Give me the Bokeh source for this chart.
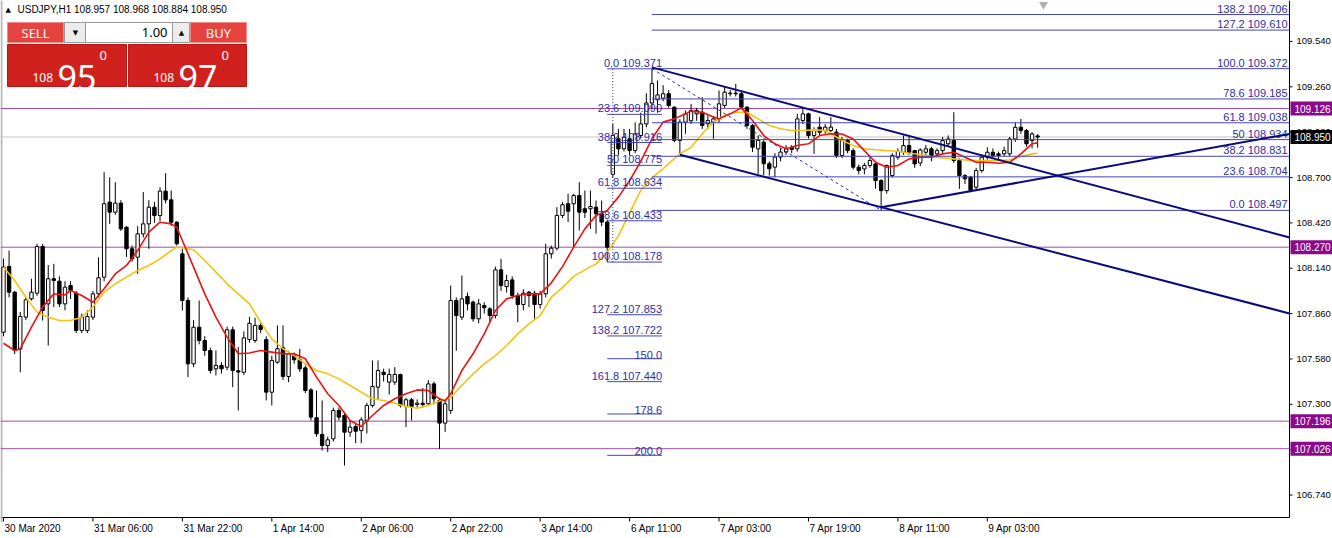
from bokeh.plotting import figure
from bokeh.models import ColumnDataSource, FixedTicker
from bokeh.core.properties import value
from bokeh.embed import file_html
from bokeh.resources import INLINE

# ---------------- data (USDJPY H1) ----------------
opens = [
    107.745, 108.151, 107.992, 107.642, 107.838, 107.951, 107.986, 108.274, 107.920, 108.075,
    108.060, 107.920, 108.033, 107.986, 107.756, 107.756, 107.838, 107.982, 108.085, 108.548,
    108.486, 108.542, 108.393, 108.260, 108.208, 108.352, 108.414, 108.517, 108.465, 108.616,
    108.562, 108.424, 108.229, 107.941, 107.550, 107.776, 107.694, 107.632, 107.519, 107.540,
    107.529, 107.760, 107.507, 107.498, 107.700, 107.694, 107.787, 107.700, 107.375, 107.560,
    107.649, 107.472, 107.601, 107.575, 107.525, 107.389, 107.217, 107.114, 107.046, 107.087,
    107.262, 107.231, 107.128, 107.163, 107.138, 107.200, 107.293, 107.406, 107.498, 107.437,
    107.437, 107.484, 107.287, 107.328, 107.299, 107.307, 107.303, 107.426, 107.324, 107.184,
    107.262, 107.941, 107.838, 107.966, 107.931, 107.828, 107.910, 107.889, 107.848, 108.130,
    108.027, 108.068, 107.972, 107.916, 107.992, 107.986, 107.916, 107.982, 108.229, 108.264,
    108.466, 108.538, 108.538, 108.589, 108.507, 108.507, 108.517, 108.476, 108.425, 108.720,
    108.939, 108.877, 108.939, 108.867, 108.959, 109.031, 109.160, 109.180, 109.190, 109.217,
    109.134, 108.929, 109.042, 109.050, 109.093, 109.103, 109.032, 109.042, 109.062, 109.145,
    109.217, 109.217, 109.217, 109.134, 109.021, 108.877, 108.918, 108.785, 108.764, 108.826,
    108.857, 108.887, 108.877, 109.052, 109.093, 108.959, 109.011, 108.990, 108.990, 108.980,
    108.836, 108.928, 108.866, 108.764, 108.753, 108.774, 108.784, 108.681, 108.619, 108.712,
    108.825, 108.856, 108.897, 108.866, 108.790, 108.856, 108.877, 108.846, 108.866, 108.908,
    108.928, 108.805, 108.712, 108.702, 108.640, 108.743, 108.825, 108.856, 108.846, 108.846,
    108.846, 108.938, 109.010, 108.990, 108.928, 108.957,
]
highs = [
    108.200, 108.249, 108.000, 107.870, 107.960, 108.075, 108.290, 108.290, 108.160, 108.167,
    108.090, 108.060, 108.060, 108.000, 107.860, 107.880, 108.000, 108.208, 108.733, 108.702,
    108.671, 108.560, 108.400, 108.280, 108.400, 108.610, 108.560, 108.550, 108.640, 108.727,
    108.620, 108.430, 108.260, 107.960, 107.820, 107.941, 107.720, 107.650, 107.632, 107.560,
    107.780, 107.780, 107.653, 107.750, 107.840, 107.834, 107.800, 107.720, 107.600, 107.787,
    107.787, 107.630, 107.620, 107.643, 107.540, 107.400, 107.385, 107.324, 107.100, 107.280,
    107.280, 107.250, 107.200, 107.180, 107.220, 107.310, 107.571, 107.571, 107.520, 107.520,
    107.530, 107.490, 107.340, 107.340, 107.330, 107.400, 107.450, 107.440, 107.340, 107.320,
    108.033, 107.960, 108.095, 107.990, 107.940, 107.950, 107.930, 107.900, 108.150, 108.198,
    108.100, 108.090, 107.990, 108.010, 108.000, 108.000, 108.000, 108.291, 108.280, 108.517,
    108.548, 108.600, 108.600, 108.671, 108.620, 108.620, 108.558, 108.558, 108.440, 109.030,
    109.000, 109.000, 109.000, 109.041, 109.100, 109.220, 109.371, 109.299, 109.270, 109.240,
    109.140, 109.060, 109.114, 109.155, 109.130, 109.196, 109.083, 109.080, 109.237, 109.258,
    109.240, 109.278, 109.230, 109.140, 109.030, 108.960, 108.940, 108.800, 108.850, 108.880,
    108.900, 108.900, 109.093, 109.134, 109.100, 109.010, 109.073, 109.030, 109.073, 109.000,
    108.950, 108.940, 108.880, 108.780, 108.790, 108.830, 108.800, 108.690, 108.780, 108.850,
    108.880, 108.959, 108.959, 108.870, 108.880, 108.900, 108.890, 108.880, 108.950, 108.960,
    109.103, 108.820, 108.720, 108.710, 108.760, 108.840, 108.887, 108.880, 108.860, 108.890,
    108.950, 109.041, 109.062, 109.000, 108.980, 108.968,
]
lows = [
    107.720, 107.960, 107.610, 107.498, 107.820, 107.940, 107.970, 107.817, 107.663, 107.900,
    107.900, 107.880, 107.950, 107.740, 107.740, 107.740, 107.820, 107.960, 108.060, 108.414,
    108.470, 108.370, 108.210, 108.180, 108.105, 108.330, 108.260, 108.420, 108.430, 108.540,
    108.400, 108.280, 107.879, 107.468, 107.530, 107.670, 107.600, 107.490, 107.478, 107.490,
    107.510, 107.406, 107.262, 107.480, 107.680, 107.680, 107.740, 107.324, 107.293, 107.550,
    107.450, 107.437, 107.550, 107.500, 107.370, 107.200, 107.100, 107.015, 107.005, 107.070,
    107.200, 106.922, 107.100, 107.060, 107.060, 107.120, 107.280, 107.330, 107.440, 107.360,
    107.420, 107.280, 107.160, 107.200, 107.280, 107.280, 107.290, 107.300, 107.025, 107.130,
    107.240, 107.630, 107.820, 107.880, 107.810, 107.800, 107.860, 107.810, 107.830, 108.000,
    107.990, 107.950, 107.807, 107.880, 107.900, 107.828, 107.890, 107.960, 108.200, 108.250,
    108.450, 108.425, 108.270, 108.373, 108.450, 108.383, 108.353, 108.400, 108.178, 108.700,
    108.836, 108.860, 108.836, 108.850, 108.940, 109.010, 109.120, 109.100, 109.170, 109.130,
    108.918, 108.846, 108.970, 109.030, 109.050, 109.000, 109.000, 108.939, 109.040, 109.130,
    109.200, 109.200, 109.120, 109.000, 108.857, 108.723, 108.713, 108.712, 108.702, 108.800,
    108.840, 108.850, 108.860, 109.030, 108.940, 108.846, 108.960, 108.970, 108.980, 108.820,
    108.820, 108.850, 108.750, 108.720, 108.720, 108.760, 108.630, 108.497, 108.600, 108.700,
    108.810, 108.840, 108.840, 108.760, 108.770, 108.840, 108.800, 108.820, 108.850, 108.890,
    108.790, 108.630, 108.660, 108.609, 108.620, 108.730, 108.810, 108.820, 108.810, 108.830,
    108.830, 108.920, 108.970, 108.890, 108.880, 108.884,
]
closes = [
    108.147, 107.992, 107.632, 107.842, 107.945, 107.992, 108.274, 107.879, 108.075, 108.064,
    107.920, 108.023, 108.003, 107.756, 107.838, 107.842, 107.982, 108.081, 108.538, 108.486,
    108.542, 108.383, 108.260, 108.198, 108.352, 108.414, 108.517, 108.465, 108.616, 108.562,
    108.424, 108.291, 107.941, 107.550, 107.776, 107.694, 107.632, 107.509, 107.540, 107.519,
    107.760, 107.509, 107.499, 107.710, 107.800, 107.787, 107.762, 107.375, 107.571, 107.643,
    107.472, 107.612, 107.575, 107.519, 107.385, 107.221, 107.118, 107.046, 107.081, 107.262,
    107.221, 107.128, 107.159, 107.134, 107.204, 107.293, 107.410, 107.509, 107.484, 107.484,
    107.484, 107.293, 107.328, 107.287, 107.307, 107.299, 107.426, 107.334, 107.184, 107.303,
    107.941, 107.848, 107.951, 107.920, 107.828, 107.920, 107.896, 107.848, 108.130, 108.033,
    108.064, 107.972, 107.916, 107.986, 107.972, 107.916, 107.982, 108.229, 108.264, 108.466,
    108.532, 108.492, 108.589, 108.486, 108.486, 108.521, 108.476, 108.425, 108.270, 108.960,
    108.877, 108.949, 108.867, 108.969, 109.031, 109.160, 109.280, 109.210, 109.217, 109.145,
    108.929, 109.042, 109.093, 109.114, 109.114, 109.021, 109.052, 109.062, 109.155, 109.227,
    109.221, 109.221, 109.134, 109.021, 108.887, 108.929, 108.785, 108.754, 108.826, 108.857,
    108.877, 108.873, 109.062, 109.093, 108.959, 108.990, 108.980, 109.011, 109.011, 108.836,
    108.928, 108.866, 108.764, 108.743, 108.774, 108.805, 108.681, 108.619, 108.774, 108.836,
    108.862, 108.897, 108.856, 108.784, 108.870, 108.877, 108.836, 108.866, 108.928, 108.938,
    108.805, 108.712, 108.692, 108.619, 108.743, 108.825, 108.856, 108.836, 108.836, 108.866,
    108.938, 109.010, 108.990, 108.908, 108.969, 108.950,
]
assert len(opens) == len(highs) == len(lows) == len(closes) == 186

# moving averages
fast_ma_x = [0, 2, 3, 5, 7, 9, 11, 12, 14, 16, 18, 20, 22, 24, 26, 28, 30, 31, 32, 34,
             36, 38, 40, 42, 44, 46, 48, 50, 52, 54, 56, 58, 60, 62, 64, 66, 68, 70, 72, 74,
             76, 78, 79, 80, 82, 84, 86, 88, 90, 92, 94, 96, 98, 100, 102, 104, 106, 108, 110, 112,
             114, 116, 118, 120, 122, 123, 125, 127, 128, 130, 132, 134, 136, 138, 140, 142, 144, 146, 148, 150,
             152, 154, 156, 158, 160, 162, 164, 166, 168, 170, 172, 174, 176, 178, 180, 182, 184, 185]
fast_ma_y = [107.677, 107.632, 107.642, 107.776, 107.900, 107.982, 107.975, 108.003, 107.972, 107.930,
             108.013, 108.105, 108.157, 108.249, 108.363, 108.424, 108.414, 108.393, 108.311, 108.147,
             107.982, 107.838, 107.715, 107.612, 107.617, 107.632, 107.622, 107.612, 107.612, 107.581,
             107.468, 107.365, 107.293, 107.200, 107.163, 107.231, 107.293, 107.334, 107.365, 107.389,
             107.385, 107.334, 107.320, 107.365, 107.509, 107.612, 107.735, 107.879, 107.951, 107.972,
             107.982, 107.982, 108.050, 108.150, 108.270, 108.383, 108.466, 108.497, 108.579, 108.680,
             108.800, 108.939, 109.042, 109.062, 109.093, 109.110, 109.103, 109.073, 109.062, 109.093,
             109.130, 109.052, 108.959, 108.908, 108.877, 108.898, 108.908, 108.959, 108.970, 108.969,
             108.938, 108.866, 108.794, 108.763, 108.774, 108.815, 108.825, 108.825, 108.846, 108.856,
             108.825, 108.794, 108.794, 108.788, 108.794, 108.846, 108.908, 108.914]
slow_ma_x = [0, 2, 4, 6, 8, 10, 12, 14, 16, 18, 20, 22, 24, 26, 28, 30, 31, 32,
             34, 36, 38, 40, 42, 44, 46, 48, 50, 52, 54, 56, 58, 60, 62, 64, 66, 68, 70, 72, 74, 76,
             78, 80, 82, 84, 86, 88, 90, 92, 94, 96, 98, 100, 102, 104, 106, 108, 110, 112, 114, 116,
             118, 120, 121, 123, 125, 127, 129, 131, 133, 135, 137, 139, 141, 143, 145, 147, 149, 150,
             152, 154, 156, 158, 160, 162, 164, 166, 168, 170, 172, 174, 176, 178, 180, 182, 184, 185]
slow_ma_y = [108.147, 108.064, 107.961, 107.869, 107.838, 107.817, 107.817, 107.838, 107.900, 107.992,
             108.044, 108.085, 108.126, 108.157, 108.198, 108.249, 108.270, 108.266,
             108.254, 108.188, 108.116, 108.044, 107.982, 107.920, 107.807, 107.704, 107.643, 107.601,
             107.550, 107.509, 107.488, 107.457, 107.416, 107.375, 107.334, 107.324, 107.307, 107.287,
             107.276, 107.293, 107.320, 107.344, 107.416, 107.488, 107.550, 107.601, 107.663, 107.735,
             107.797, 107.848, 107.961, 108.020, 108.090, 108.130, 108.167, 108.240, 108.340, 108.480,
             108.620, 108.700, 108.754, 108.816, 108.846, 108.887, 108.970, 109.042, 109.083, 109.103,
             109.103, 109.062, 109.021, 109.001, 108.990, 108.990, 108.994, 108.990, 108.950, 108.930,
             108.897, 108.877, 108.871, 108.866, 108.862, 108.850, 108.842, 108.829, 108.821, 108.815,
             108.809, 108.805, 108.805, 108.805, 108.809, 108.829, 108.846, 108.850]

# axis ticks
x_tick_bars = [0, 16, 32, 48, 64, 80, 96, 112, 128, 144, 160, 176]
x_tick_labels = ["30 Mar 2020", "31 Mar 06:00", "31 Mar 22:00", "1 Apr 14:00", "2 Apr 06:00",
                 "2 Apr 22:00", "3 Apr 14:00", "6 Apr 11:00", "7 Apr 03:00", "7 Apr 19:00",
                 "8 Apr 11:00", "9 Apr 03:00"]
y_ticks = [106.740, 107.020, 107.300, 107.580, 107.860, 108.140, 108.420, 108.700, 108.980, 109.260, 109.540]

# horizontal levels
hlines = [109.126, 108.270, 107.196, 107.026]
bid = 108.950

# fibonacci 1 (short, 6 Apr)
fib1_prices = [109.371, 109.090, 108.916, 108.775, 108.634, 108.433, 108.178, 107.853, 107.722,
               107.5815, 107.440, 107.2403, 106.985]
fib1_labels = ["0.0 109.371", "23.6 109.090", "38.2 108.916", "50 108.775", "61.8 108.634",
               "78.6 108.433", "100.0 108.178", "127.2 107.853", "138.2 107.722", "150.0",
               "161.8 107.440", "178.6", "200.0"]
fib1_bars = [108, 117.8]
fib1_anchor_bar = 109
# fibonacci 2 (6 Apr high -> 8 Apr low)
fib2_prices = [109.706, 109.610, 109.372, 109.185, 109.038, 108.934, 108.831, 108.704, 108.497]
fib2_labels = ["138.2 109.706", "127.2 109.610", "100.0 109.372", "78.6 109.185", "61.8 109.038",
               "50 108.934", "38.2 108.831", "23.6 108.704", "0.0 108.497"]
fib2_anchor_bars = [116, 157]
fib2_anchor_prices = [109.372, 108.497]

# trend lines (bar, price)
upper_channel = ([116, 230.05], [109.380, 108.330])
lower_channel = ([121, 230.05], [108.840, 107.861])
rising_line = ([157, 230.05], [108.517, 108.969])

# ---------------- layout helpers (decoration placement only) ----------------
W, H = 1332, 538
BOTTOM = 16


def sx(px):  # reference pixel column -> bar coordinate
    return (px - 3) / 5.59


def sy(py):  # reference pixel row -> price
    return 109.126 - (py - 108) / 162


X0, X1 = sx(0), sx(W)
Y0, Y1 = sy(H - BOTTOM), sy(0)
AX = sx(1289)          # right price-axis position
AXIS_Y = sy(517)       # bottom time-axis line
FONT = "Liberation Sans"

p = figure(width=W, height=H, x_range=(X0, X1), y_range=(Y0, Y1),
           y_axis_location=None, toolbar_location=None, output_backend="svg",
           min_border_left=0, min_border_right=0, min_border_top=0, min_border_bottom=BOTTOM)
p.outline_line_color = None
p.background_fill_color = "white"
p.border_fill_color = "white"
p.xgrid.visible = False
p.ygrid.visible = False

# ---- bottom time axis: labels from Bokeh axis, left-aligned to their tick
ARIAL = {" ": 278, ":": 278, "M": 833, "a": 556, "r": 333, "A": 667, "p": 556}
px_per_bar = W / (X1 - X0)


def text_w(s, size=10):
    return sum(ARIAL.get(c, 556) for c in s) / 1000 * size


label_pos = [round(b + (1 + text_w(t) / 2) / px_per_bar, 4) + 0.00013 for b, t in zip(x_tick_bars, x_tick_labels)]
p.xaxis.ticker = FixedTicker(ticks=label_pos)
p.xaxis.major_label_overrides = {pos: t for pos, t in zip(label_pos, x_tick_labels)}
p.xaxis.axis_line_color = None
p.xaxis.major_tick_line_color = None
p.xaxis.minor_tick_line_color = None
p.xaxis.major_tick_out = 0
p.xaxis.major_tick_in = 0
p.xaxis.major_label_standoff = 0
p.xaxis.major_label_text_font = FONT
p.xaxis.major_label_text_font_size = "10px"
p.xaxis.major_label_text_color = "black"

# axis frame lines and ticks
p.segment(x0=[X0, AX], x1=[AX, AX], y0=[AXIS_Y, Y1], y1=[AXIS_Y, AXIS_Y], line_color="black", line_width=1)
p.segment(x0=x_tick_bars, x1=x_tick_bars, y0=[AXIS_Y] * len(x_tick_bars), y1=[sy(521)] * len(x_tick_bars),
          line_color="black", line_width=1)
p.segment(x0=[AX] * len(y_ticks), x1=[sx(1292)] * len(y_ticks), y0=y_ticks, y1=y_ticks,
          line_color="black", line_width=1)
p.text(x=[sx(1296)] * len(y_ticks), y=y_ticks, text=[f"{v:.3f}" for v in y_ticks], text_align="left",
       text_baseline="middle", text_font=value(FONT), text_font_size=value("9.5px"), text_color="black")

# window edge and chart-shift marker
p.quad(left=[X0], right=[sx(2)], top=[Y1], bottom=[Y0], fill_color="#b9b9b9", line_color=None)
p.scatter(x=[sx(1043)], y=[sy(4)], marker="inverted_triangle", size=9, fill_color="#b0b0b0", line_color=None)

# horizontal lines
p.segment(x0=[X0] * len(hlines), x1=[AX] * len(hlines), y0=hlines, y1=hlines,
          line_color="#a24ca2", line_width=1)
p.segment(x0=[X0], x1=[AX], y0=[bid], y1=[bid], line_color="#c4c4c4", line_width=1)

# candles
idx = list(range(len(opens)))
csrc = ColumnDataSource(dict(
    x=idx, high=highs, low=lows,
    top=[max(o, c) for o, c in zip(opens, closes)],
    bottom=[min(o, c) for o, c in zip(opens, closes)],
    fill=["white" if c >= o else "black" for o, c in zip(opens, closes)],
))
p.segment(x0="x", y0="high", x1="x", y1="low", source=csrc, line_color="black", line_width=1)
p.vbar(x="x", width=0.6, top="top", bottom="bottom", fill_color="fill", line_color="black",
       line_width=1, source=csrc)

# moving averages
p.line(slow_ma_x, slow_ma_y, line_color="#f5c211", line_width=1.6)
p.line(fast_ma_x, fast_ma_y, line_color="#ee1111", line_width=1.6)

# fib 1
LEVEL = "#4646b4"
TXT = "#2e2ea6"
n1 = len(fib1_prices)
p.segment(x0=[fib1_bars[0]] * n1, x1=[fib1_bars[1]] * n1, y0=fib1_prices, y1=fib1_prices,
          line_color=LEVEL, line_width=1)
p.segment(x0=[fib1_anchor_bar], x1=[fib1_anchor_bar], y0=[fib1_prices[6]], y1=[fib1_prices[0]],
          line_color="#3030a0", line_width=1, line_dash="1 2")
p.text(x=[fib1_bars[1]] * n1, y=fib1_prices, text=fib1_labels, text_align="right",
       text_baseline="bottom", text_font=value(FONT), text_font_size=value("11px"), text_color=TXT)

# fib 2
n2 = len(fib2_prices)
p.segment(x0=[fib2_anchor_bars[0]] * n2, x1=[AX] * n2, y0=fib2_prices, y1=fib2_prices,
          line_color=LEVEL, line_width=1)
p.line(fib2_anchor_bars, fib2_anchor_prices, line_color="#3030a0", line_width=1, line_dash="3 3")
p.text(x=[sx(1287)] * n2, y=fib2_prices, text=fib2_labels, text_align="right",
       text_baseline="bottom", text_font=value(FONT), text_font_size=value("11px"), text_color=TXT)

# channel / trend lines
for xs, ys in (upper_channel, lower_channel, rising_line):
    p.line(xs, ys, line_color="#0a0a7a", line_width=2)

# price boxes on the price axis
box_prices = hlines + [bid]
box_fill = ["#8a0a8a"] * len(hlines) + ["black"]
half = 7 / 162
p.quad(left=[sx(1290)] * len(box_prices), right=[X1] * len(box_prices),
       top=[v + half for v in box_prices], bottom=[v - half for v in box_prices],
       fill_color=box_fill, line_color=None)
p.text(x=[sx(1294)] * len(box_prices), y=box_prices, text=[f"{v:.3f}" for v in box_prices],
       text_align="left", text_baseline="middle", text_font=value(FONT),
       text_font_size=value("10px"), text_color="white")

# ---------------- header & one-click trading panel (decoration) ----------------
p.text(x=[sx(5)], y=[sy(9)], text=["▲"], text_align="left", text_baseline="middle",
       text_font=value("DejaVu Sans"), text_font_size=value("7px"), text_color="black")
p.text(x=[sx(17)], y=[sy(9)], text=["USDJPY,H1  108.957 108.968 108.884 108.950"],
       text_align="left", text_baseline="middle", text_font=value(FONT),
       text_font_size=value("10px"), text_color="black")

panel_l = [7, 64, 85, 172, 190, 7, 128]
panel_r = [63, 85, 172, 189, 246, 126, 246]
panel_t = [22, 22, 22, 22, 22, 44, 44]
panel_b = [42, 42, 42, 42, 42, 86, 86]
panel_fill = ["#e6433e", "#ececec", "white", "#ececec", "#e6433e", "#d1211f", "#d1211f"]
panel_line = ["#f08a86", "#9a9a9a", "#9a9a9a", "#9a9a9a", "#f08a86", "#b81414", "#b81414"]
p.quad(left=[sx(v) for v in panel_l], right=[sx(v) for v in panel_r],
       top=[sy(v) for v in panel_t], bottom=[sy(v) for v in panel_b],
       fill_color=panel_fill, line_color=panel_line, line_width=1)
p.text(x=[sx(35), sx(218)], y=[sy(32)] * 2, text=["SELL", "BUY"], text_align="center",
       text_baseline="middle", text_font=value("Noto Sans"), text_font_size=value("13px"),
       text_color="white")
p.text(x=[sx(167)], y=[sy(32)], text=["1.00"], text_align="right", text_baseline="middle",
       text_font=value("Noto Sans"), text_font_size=value("13px"), text_color="black")
p.text(x=[sx(75), sx(181)], y=[sy(32)] * 2, text=["▼", "▲"], text_align="center",
       text_baseline="middle", text_font=value("DejaVu Sans"), text_font_size=value("7px"),
       text_color="black")
p.text(x=[sx(32), sx(153)], y=[sy(77)] * 2, text=["108", "108"], text_align="left",
       text_baseline="alphabetic", text_font=value("Noto Sans"), text_font_size=value("12px"),
       text_color="white")
p.text(x=[sx(57), sx(178)], y=[sy(77)] * 2, text=["95", "97"], text_align="left",
       text_baseline="alphabetic", text_font=value("Noto Sans"), text_font_size=value("34px"),
       text_color="white")
p.text(x=[sx(99), sx(221)], y=[sy(50)] * 2, text=["0", "0"], text_align="left",
       text_baseline="top", text_font=value("Noto Sans"), text_font_size=value("13px"),
       text_color="white")

open("out.html", "w").write(file_html(p, INLINE))
